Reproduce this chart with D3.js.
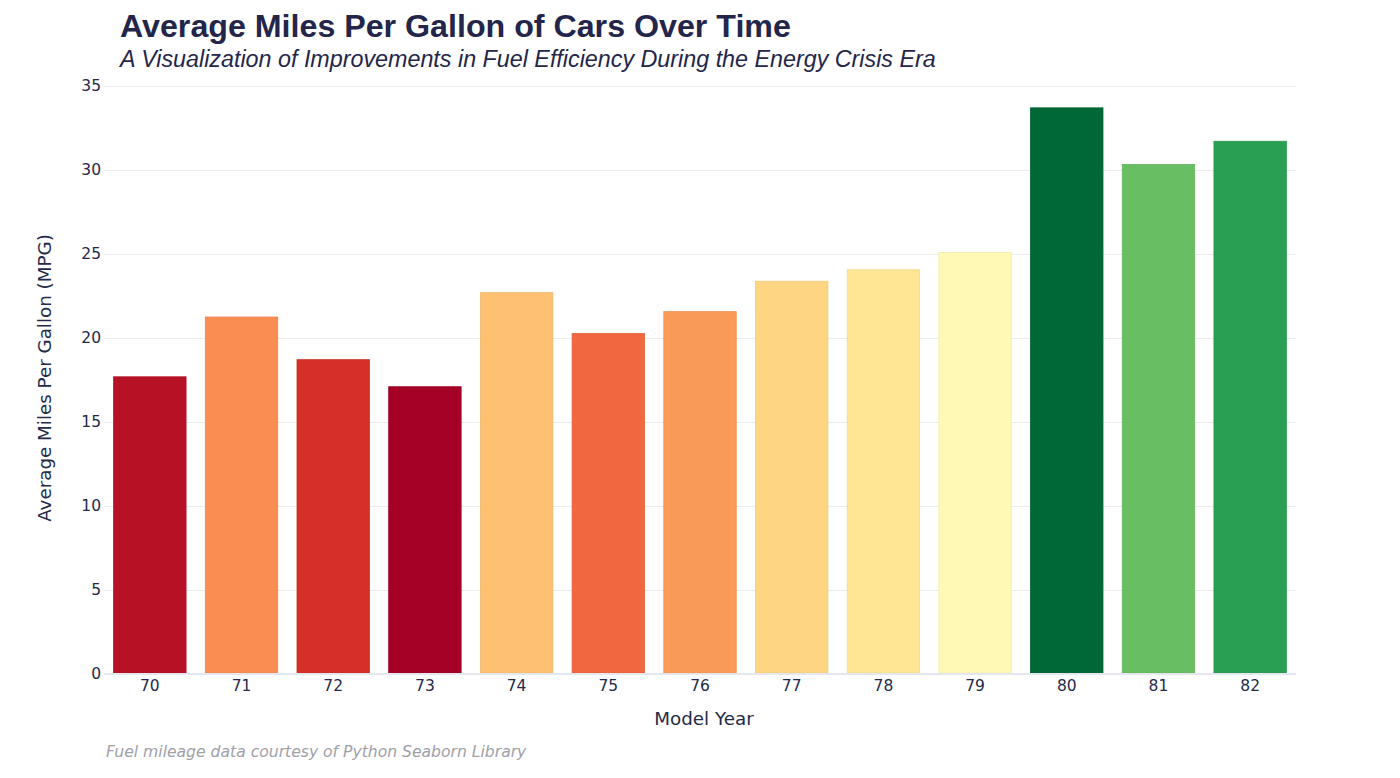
<!DOCTYPE html>
<html>
<head>
<meta charset="utf-8">
<script src="https://cdn.jsdelivr.net/npm/d3@7"></script>
<style>
  body { margin: 0; background: #fff; }
  .tick text { font-family: "DejaVu Sans", Verdana, sans-serif; font-size: 15.5px; fill: #232a4a; }
</style>
</head>
<body>
<div id="chart"></div>
<script>
// data: seaborn mpg, mean by model year
var years = ["70", "71", "72", "73", "74", "75", "76", "77", "78", "79", "80", "81", "82"];
var mpg = [17.69, 21.25, 18.71, 17.10, 22.70, 20.27, 21.57, 23.38, 24.06, 25.09, 33.70, 30.33, 31.71];
var yTicks = [0, 5, 10, 15, 20, 25, 30, 35];
// RdYlGn stops
var palette = ["#a50026", "#d73027", "#f46d43", "#fdae61", "#fee08b", "#ffffbf",
               "#d9ef8b", "#a6d96a", "#66bd63", "#1a9850", "#006837"];

var width = 1400, height = 778;
var margin = { top: 86, right: 104, bottom: 104, left: 104 };
var w = width - margin.left - margin.right;
var h = height - margin.top - margin.bottom;
var textColor = "#232a4a";

var svg = d3.select("#chart")
  .append("svg")
  .attr("width", width)
  .attr("height", height);

var g = svg.append("g")
  .attr("transform", "translate(" + margin.left + "," + margin.top + ")");

var x = d3.scaleBand()
  .domain(years)
  .range([0, w])
  .paddingInner(0.21)
  .paddingOuter(0.105);

var y = d3.scaleLinear()
  .domain([0, 35])
  .range([h, 0]);

// color by value, min -> red, max -> green
var vMin = d3.min(mpg), vMax = d3.max(mpg);
var color = d3.scaleLinear()
  .domain(palette.map((p, i) => vMin + (vMax - vMin) * i / (palette.length - 1)))
  .range(palette)
  .interpolate(d3.interpolateRgb);

// gridlines
var yAxis = d3.axisLeft(y)
  .tickValues(yTicks)
  .tickSize(-w)
  .tickPadding(3);

g.append("g")
  .attr("class", "y axis")
  .call(yAxis)
  .call(function (sel) {
    sel.select(".domain").remove();
    sel.selectAll(".tick line").attr("stroke", "#ebecef").attr("stroke-width", 1);
    sel.selectAll(".tick").filter(d => d === 0).select("line").remove();
  });

// bars
g.selectAll(".bar")
  .data(years.map((yr, i) => ({ yr: yr, v: mpg[i] })))
  .enter()
  .append("rect")
  .attr("class", "bar")
  .attr("x", d => x(d.yr))
  .attr("width", x.bandwidth())
  .attr("y", d => y(d.v))
  .attr("height", d => y(0) - y(d.v) - 1)
  .attr("fill", d => color(d.v))
  .attr("stroke", d => d3.color(color(d.v)).darker(0.15))
  .attr("stroke-width", 0.8);

// zero line
g.append("line")
  .attr("x1", 0).attr("x2", w)
  .attr("y1", y(0)).attr("y2", y(0))
  .attr("stroke", "#e4e7ee")
  .attr("stroke-width", 2);

// x axis
var xAxis = d3.axisBottom(x)
  .tickSize(0)
  .tickPadding(6);

g.append("g")
  .attr("class", "x axis")
  .attr("transform", "translate(0," + h + ")")
  .call(xAxis)
  .call(sel => sel.select(".domain").remove());

// titles
function fitWidth(t, target) {
  var fs = parseFloat(t.attr("font-size"));
  var len = t.node().getComputedTextLength();
  t.attr("font-size", fs * target / len);
}

var title = svg.append("text")
  .attr("x", 120).attr("y", 37)
  .attr("font-family", "'Liberation Sans', Arial, sans-serif")
  .attr("font-weight", "bold")
  .attr("font-size", 28)
  .attr("fill", "#23264a")
  .text("Average Miles Per Gallon of Cars Over Time");
fitWidth(title, 671);

var subtitle = svg.append("text")
  .attr("x", 120).attr("y", 67)
  .attr("font-family", "'Liberation Sans', Arial, sans-serif")
  .attr("font-style", "italic")
  .attr("font-size", 22)
  .attr("fill", "#23264a")
  .text("A Visualization of Improvements in Fuel Efficiency During the Energy Crisis Era");
fitWidth(subtitle, 816);

svg.append("text")
  .attr("text-anchor", "middle")
  .attr("x", margin.left + w / 2 + 4).attr("y", 725)
  .attr("font-family", "'DejaVu Sans', Verdana, sans-serif")
  .attr("font-size", 18.3)
  .attr("fill", textColor)
  .text("Model Year");

svg.append("text")
  .attr("text-anchor", "middle")
  .attr("transform", "translate(51," + (margin.top + h / 2 - 2) + ") rotate(-90)")
  .attr("font-family", "'DejaVu Sans', Verdana, sans-serif")
  .attr("font-size", 18.3)
  .attr("fill", textColor)
  .text("Average Miles Per Gallon (MPG)");

svg.append("text")
  .attr("x", 106).attr("y", 757)
  .attr("font-family", "'DejaVu Sans', Verdana, sans-serif")
  .attr("font-style", "italic")
  .attr("font-size", 15.6)
  .attr("fill", "#a0a0a8")
  .text("Fuel mileage data courtesy of Python Seaborn Library");
</script>
</body>
</html>
